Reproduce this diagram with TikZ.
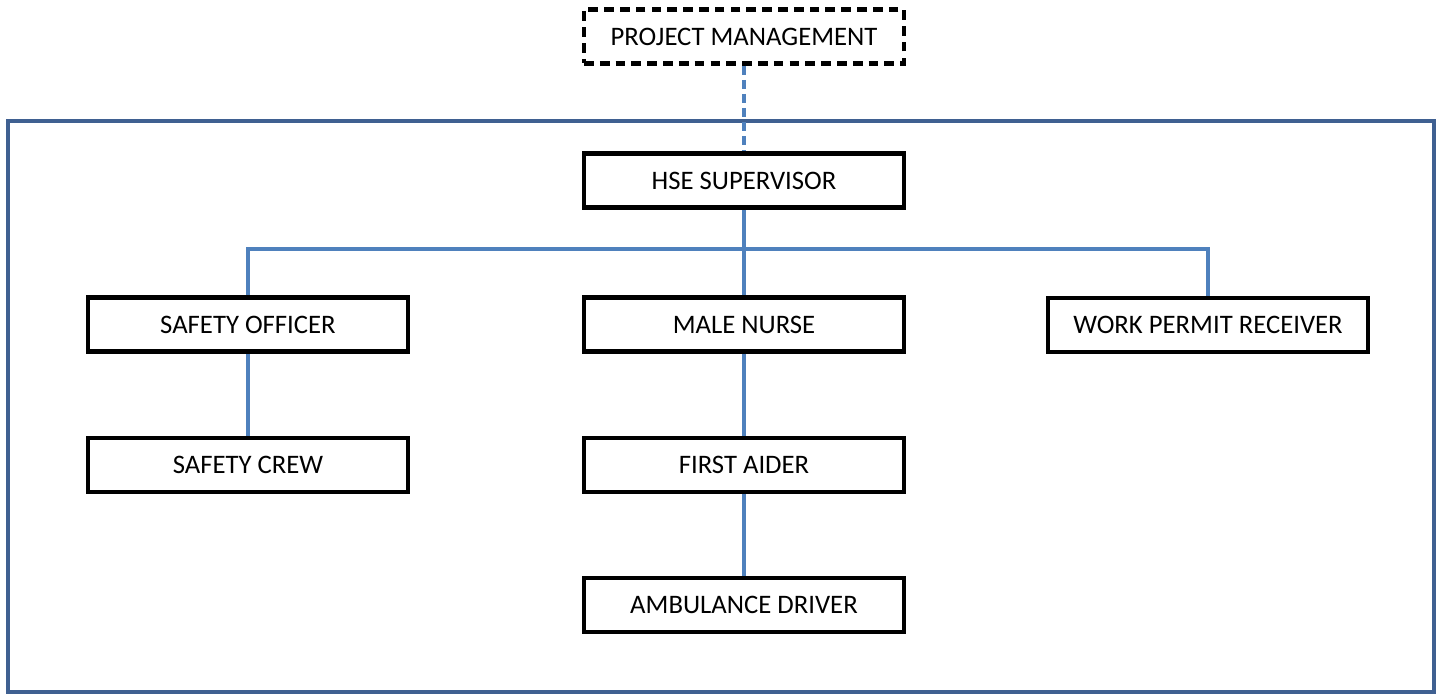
\documentclass[tikz,border=0pt]{standalone}
\usepackage{fontspec}
\setmainfont{Carlito}
\usetikzlibrary{positioning}
\definecolor{framecol}{RGB}{63,96,145}
\definecolor{linkcol}{RGB}{79,129,189}

\begin{document}
\begin{tikzpicture}[x=0.02cm,y=-0.02cm,
    post/.style={draw=black,line width=2.6pt,fill=white,minimum width=6.4cm,
                 minimum height=1.08cm,inner sep=0pt,font=\fontsize{15.2}{17}\selectfont},
    link/.style={draw=linkcol,line width=2.1pt}]
    \useasboundingbox (0,0) rectangle (1443,697);

    \draw [framecol,line width=2.8pt] (8,121) rectangle (1434,692);

    \node [post,dash pattern=on 5.5pt off 3.5pt] (pm) at (744,36.5) {PROJECT MANAGEMENT};
    \node [post] (hse) at (744,180.5) {HSE SUPERVISOR};
    \node [post] (so)  at (248,324.5) {SAFETY OFFICER};
    \node [post] (mn)  at (744,324.5) {MALE NURSE};
    \node [post] (wpr) at (1208,325)  {WORK PERMIT RECEIVER};
    \node [post] (sc)  at (248,465)   {SAFETY CREW};
    \node [post] (fa)  at (744,465)   {FIRST AIDER};
    \node [post] (ad)  at (744,605)   {AMBULANCE DRIVER};

    \coordinate (bus) at (744,249);

    \draw [link,dash pattern=on 5pt off 3pt] (pm) -- (hse);
    \draw [link] (hse) -- (mn)
                 (so.north) |- (bus) -| (wpr.north)
                 (so) -- (sc)
                 (mn) -- (fa)
                 (fa) -- (ad);
\end{tikzpicture}
\end{document}
